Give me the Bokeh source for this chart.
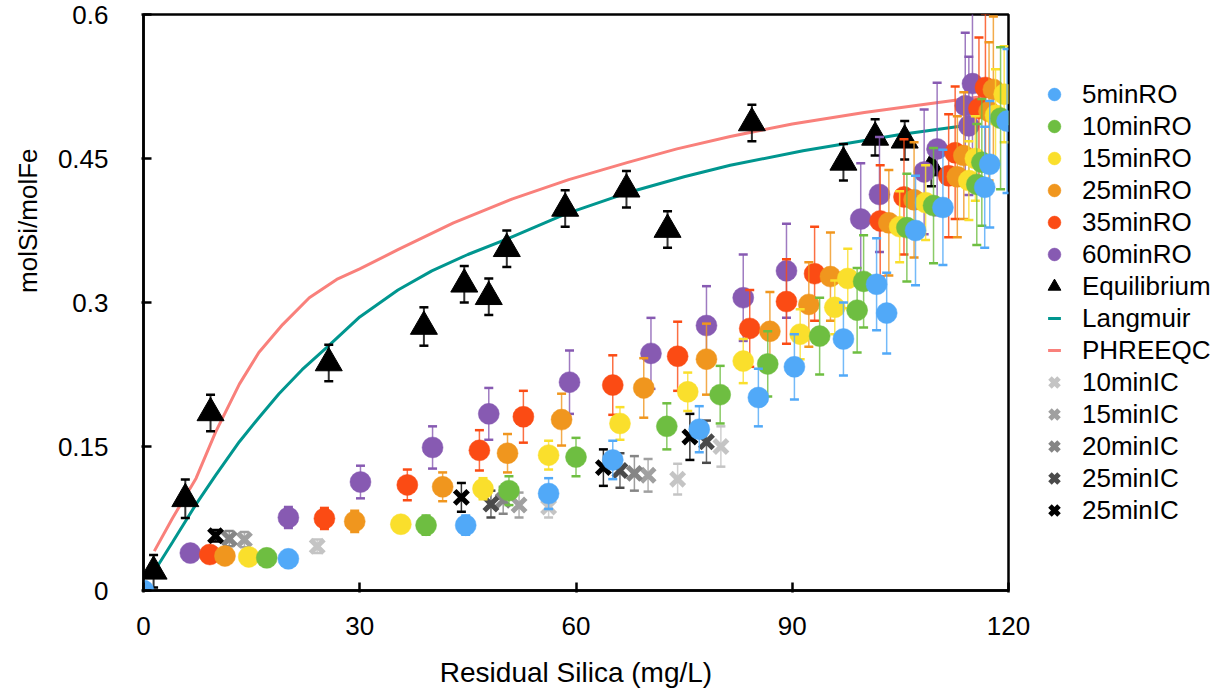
from bokeh.plotting import figure
from bokeh.models import Range1d, FixedTicker, Legend, LegendItem, Title
from bokeh.embed import file_html
from bokeh.resources import INLINE

# ---------------- data ----------------
ro5_x = [0, 20.1, 44.7, 56.2, 65.1, 77.1, 85.3, 90.3, 97.1, 103.1, 101.7, 107.1, 110.9, 116.7, 117.4, 119.8]
ro5_y = [0, 0.033, 0.068, 0.101, 0.136, 0.168, 0.201, 0.233, 0.262, 0.289, 0.319, 0.375, 0.399, 0.420, 0.444, 0.489]
ro5_e = [0, 0.005, 0.010, 0.016, 0.020, 0.024, 0.030, 0.034, 0.038, 0.042, 0.048, 0.057, 0.060, 0.063, 0.066, 0.075]

ro10_x = [17.1, 39.2, 50.7, 60.0, 72.6, 80.0, 86.6, 93.8, 99.0, 99.9, 105.9, 109.6, 115.6, 116.3, 118.9]
ro10_y = [0.034, 0.068, 0.104, 0.139, 0.171, 0.204, 0.236, 0.265, 0.292, 0.322, 0.378, 0.401, 0.423, 0.446, 0.492]
ro10_e = [0.005, 0.010, 0.015, 0.020, 0.024, 0.030, 0.034, 0.040, 0.044, 0.048, 0.056, 0.060, 0.063, 0.066, 0.074]

ro15_x = [14.6, 35.7, 47.1, 56.2, 66.1, 75.5, 83.2, 91.1, 95.9, 97.7, 104.9, 108.5, 114.5, 115.4, 118.2, 119.4]
ro15_y = [0.035, 0.069, 0.106, 0.141, 0.174, 0.207, 0.239, 0.267, 0.295, 0.325, 0.379, 0.404, 0.427, 0.450, 0.495, 0.517]
ro15_e = [0.004, 0.007, 0.011, 0.015, 0.017, 0.020, 0.023, 0.026, 0.028, 0.031, 0.037, 0.039, 0.041, 0.044, 0.048, 0.050]

ro25_x = [11.3, 29.3, 41.5, 50.5, 58.0, 69.4, 78.1, 86.9, 92.3, 95.3, 103.4, 106.9, 112.9, 113.8, 117.3, 117.9]
ro25_y = [0.036, 0.072, 0.108, 0.143, 0.178, 0.211, 0.241, 0.270, 0.298, 0.327, 0.383, 0.407, 0.431, 0.453, 0.499, 0.522]
ro25_e = [0.005, 0.011, 0.015, 0.020, 0.027, 0.031, 0.037, 0.041, 0.044, 0.046, 0.055, 0.060, 0.063, 0.066, 0.072, 0.076]

ro35_x = [9.2, 25.1, 36.6, 46.6, 52.7, 65.1, 74.1, 84.1, 89.2, 93.1, 102.2, 105.5, 111.7, 112.6, 115.9, 116.8]
ro35_y = [0.0375, 0.075, 0.110, 0.146, 0.181, 0.214, 0.244, 0.273, 0.301, 0.330, 0.385, 0.410, 0.432, 0.456, 0.502, 0.524]
ro35_e = [0.006, 0.011, 0.016, 0.021, 0.027, 0.031, 0.036, 0.040, 0.044, 0.049, 0.058, 0.060, 0.064, 0.069, 0.074, 0.077]

ro60_x = [6.5, 20.1, 30.1, 40.1, 47.9, 59.1, 70.4, 78.1, 83.2, 89.2, 99.5, 102.1, 108.3, 110.1, 114.5, 114.0, 115.0]
ro60_y = [0.039, 0.076, 0.113, 0.149, 0.184, 0.217, 0.247, 0.276, 0.305, 0.333, 0.387, 0.4125, 0.436, 0.460, 0.484, 0.505, 0.528]
ro60_e = [0.006, 0.011, 0.017, 0.022, 0.027, 0.033, 0.037, 0.041, 0.045, 0.049, 0.058, 0.060, 0.065, 0.069, 0.072, 0.076, 0.079]

eq_x = [1.4, 5.8, 9.3, 25.7, 38.9, 44.5, 47.9, 50.4, 58.5, 67.0, 72.7, 84.4, 97.1, 101.5, 105.6, 109.3]
eq_y = [0.020, 0.0955, 0.185, 0.237, 0.275, 0.319, 0.306, 0.356, 0.398, 0.418, 0.376, 0.487, 0.446, 0.472, 0.469, 0.440]
eq_e = [0.017, 0.020, 0.019, 0.019, 0.020, 0.019, 0.019, 0.019, 0.019, 0.019, 0.019, 0.019, 0.019, 0.019, 0.020, 0.019]

lang_x = [1.5, 4.0, 7.3, 10.0, 13.3, 16.0, 18.8, 22.0, 25.7, 30.0, 35.3, 40.0, 45.0, 50.4, 58.5, 67.0, 75.0, 81.4, 91.5, 105.0, 115.6]
lang_y = [0.020, 0.050, 0.090, 0.120, 0.155, 0.180, 0.205, 0.230, 0.255, 0.285, 0.313, 0.333, 0.350, 0.366, 0.392, 0.414, 0.431, 0.443, 0.458, 0.475, 0.486]

phr_x = [1.5, 4.0, 7.3, 10.0, 13.3, 16.0, 19.3, 23.0, 26.8, 30.0, 35.3, 43.0, 51.2, 59.0, 67.2, 74.0, 81.4, 90.0, 100.0, 110.0, 117.0]
phr_y = [0.041, 0.075, 0.117, 0.165, 0.215, 0.248, 0.277, 0.305, 0.324, 0.335, 0.355, 0.383, 0.408, 0.428, 0.446, 0.460, 0.473, 0.486, 0.498, 0.508, 0.515]

ic10_x = [24.1, 56.2, 74.1, 80.1]
ic10_y = [0.046, 0.087, 0.116, 0.150]
ic10_e = [0.007, 0.011, 0.016, 0.021]
ic15_x = [14.0, 52.1, 70.0]
ic15_y = [0.053, 0.089, 0.120]
ic15_e = [0.008, 0.013, 0.017]
ic20_x = [11.9, 49.9, 68.1]
ic20_y = [0.054, 0.094, 0.122]
ic20_e = [0.008, 0.014, 0.018]
ic25a_x = [48.2, 66.1, 78.1]
ic25a_y = [0.090, 0.125, 0.155]
ic25a_e = [0.014, 0.018, 0.022]
ic25b_x = [10.0, 44.1, 63.8, 75.8]
ic25b_y = [0.057, 0.097, 0.128, 0.160]
ic25b_e = [0.006, 0.015, 0.019, 0.024]

x_ticks = [0, 30, 60, 90, 120]
y_ticks = [0, 0.15, 0.3, 0.45, 0.6]
y_tick_labels = ["0", "0.15", "0.3", "0.45", "0.6"]

# ---------------- styling ----------------
FONT = "Liberation Sans"
C_BLUE, C_GREEN, C_YELLOW = "#51a9f8", "#6ebe41", "#fadf2c"
C_ORANGE, C_RED, C_PURPLE = "#f0961e", "#fb4b14", "#875ab2"
C_TEAL, C_PINK = "#00968f", "#f9807b"
C_IC10, C_IC15, C_IC20, C_IC25A, C_IC25B = "#c4c4c4", "#a0a0a0", "#858585", "#4a4a4a", "#000000"

p = figure(frame_width=865, frame_height=576,
           x_range=Range1d(0, 120), y_range=Range1d(0, 0.6),
           output_backend="svg", toolbar_location=None,
           min_border_left=143, min_border_top=14, min_border_bottom=100, min_border_right=0)
p.xgrid.visible = False
p.ygrid.visible = False
p.outline_line_color = "black"
p.outline_line_width = 2.5
p.outline_line_alpha = 1.0
p.background_fill_color = "white"
p.border_fill_color = "white"

for ax in (p.xaxis[0], p.yaxis[0]):
    ax.axis_line_width = 2.5
    ax.major_tick_line_width = 2.5
    ax.major_tick_in = 8
    ax.major_tick_out = 2
    ax.minor_tick_line_color = None
    ax.major_label_text_font = FONT
    ax.major_label_text_font_size = "26px"
    ax.major_label_text_color = "black"
    ax.axis_label_text_font = FONT
    ax.axis_label_text_font_style = "normal"
    ax.axis_label_text_color = "black"

p.xaxis.ticker = FixedTicker(ticks=x_ticks)
p.yaxis.ticker = FixedTicker(ticks=y_ticks)
p.yaxis.major_label_overrides = {t: s for t, s in zip(y_ticks, y_tick_labels)}
p.xaxis.axis_label = "Residual Silica (mg/L)"
p.xaxis.axis_label_text_font_size = "28px"
p.xaxis.major_label_standoff = 24
p.xaxis.axis_label_standoff = 19
p.yaxis.major_label_standoff = 33

# y-axis title, placed above the axis centre as in the reference
p.add_layout(Title(text="molSi/molFe", align="right", offset=134, vertical_align="middle",
                   text_font=FONT, text_font_size="26px", text_font_style="normal",
                   text_color="black", standoff=21), "left")


def errbars(xs, ys, es, color, stem_w=1.5, cap=9):
    xx = [x for x, e in zip(xs, es) if e > 0]
    lo = [y - e for y, e in zip(ys, es) if e > 0]
    hi = [y + e for y, e in zip(ys, es) if e > 0]
    p.segment(x0=xx, y0=lo, x1=xx, y1=hi, line_color=color, line_width=stem_w, line_alpha=0.8)
    p.scatter(x=xx + xx, y=lo + hi, marker="dash", size=cap, line_color=color, line_width=2.5)


# model lines
p.line(phr_x, phr_y, line_color=C_PINK, line_width=3)
p.line(lang_x, lang_y, line_color=C_TEAL, line_width=3)

# equilibrium
errbars(eq_x, eq_y, eq_e, "black", stem_w=2)
r_eq = p.scatter(eq_x, eq_y, marker="triangle", size=27, fill_color="black", line_color="black")

# IC series
ic_defs = [(ic10_x, ic10_y, ic10_e, C_IC10), (ic15_x, ic15_y, ic15_e, C_IC15),
           (ic20_x, ic20_y, ic20_e, C_IC20), (ic25a_x, ic25a_y, ic25a_e, C_IC25A),
           (ic25b_x, ic25b_y, ic25b_e, C_IC25B)]
ic_r = []
for xs, ys, es, c in ic_defs:
    errbars(xs, ys, es, c)
    ic_r.append(p.scatter(xs, ys, marker="x", size=19, line_color=c, line_width=5))

# RO series (60 min drawn first, 5 min on top)
ro_defs = [(ro60_x, ro60_y, ro60_e, C_PURPLE), (ro35_x, ro35_y, ro35_e, C_RED),
           (ro25_x, ro25_y, ro25_e, C_ORANGE), (ro15_x, ro15_y, ro15_e, C_YELLOW),
           (ro10_x, ro10_y, ro10_e, C_GREEN), (ro5_x, ro5_y, ro5_e, C_BLUE)]
ro_r = {}
for xs, ys, es, c in ro_defs:
    errbars(xs, ys, es, c)
    ro_r[c] = p.scatter(xs, ys, marker="circle", size=21, fill_color=c, line_color=c, line_width=0.5)

nan = float("nan")
leg_lang = p.scatter([nan], [nan], marker="dash", line_color=C_TEAL, line_width=3)
leg_phr = p.scatter([nan], [nan], marker="dash", line_color=C_PINK, line_width=3)

items = [
    LegendItem(label="5minRO", renderers=[ro_r[C_BLUE]]),
    LegendItem(label="10minRO", renderers=[ro_r[C_GREEN]]),
    LegendItem(label="15minRO", renderers=[ro_r[C_YELLOW]]),
    LegendItem(label="25minRO", renderers=[ro_r[C_ORANGE]]),
    LegendItem(label="35minRO", renderers=[ro_r[C_RED]]),
    LegendItem(label="60minRO", renderers=[ro_r[C_PURPLE]]),
    LegendItem(label="Equilibrium", renderers=[r_eq]),
    LegendItem(label="Langmuir", renderers=[leg_lang]),
    LegendItem(label="PHREEQC", renderers=[leg_phr]),
    LegendItem(label="10minIC", renderers=[ic_r[0]]),
    LegendItem(label="15minIC", renderers=[ic_r[1]]),
    LegendItem(label="20minIC", renderers=[ic_r[2]]),
    LegendItem(label="25minIC", renderers=[ic_r[3]]),
    LegendItem(label="25minIC", renderers=[ic_r[4]]),
]
legend = Legend(items=items, location="center_left",
                glyph_width=56, glyph_height=32, label_height=32,
                spacing=0, label_standoff=0, padding=0, margin=18,
                border_line_alpha=0, background_fill_alpha=0,
                label_text_font=FONT, label_text_font_size="26px", label_text_color="black")
p.add_layout(legend, "right")

open("out.html", "w").write(file_html(p, INLINE))
